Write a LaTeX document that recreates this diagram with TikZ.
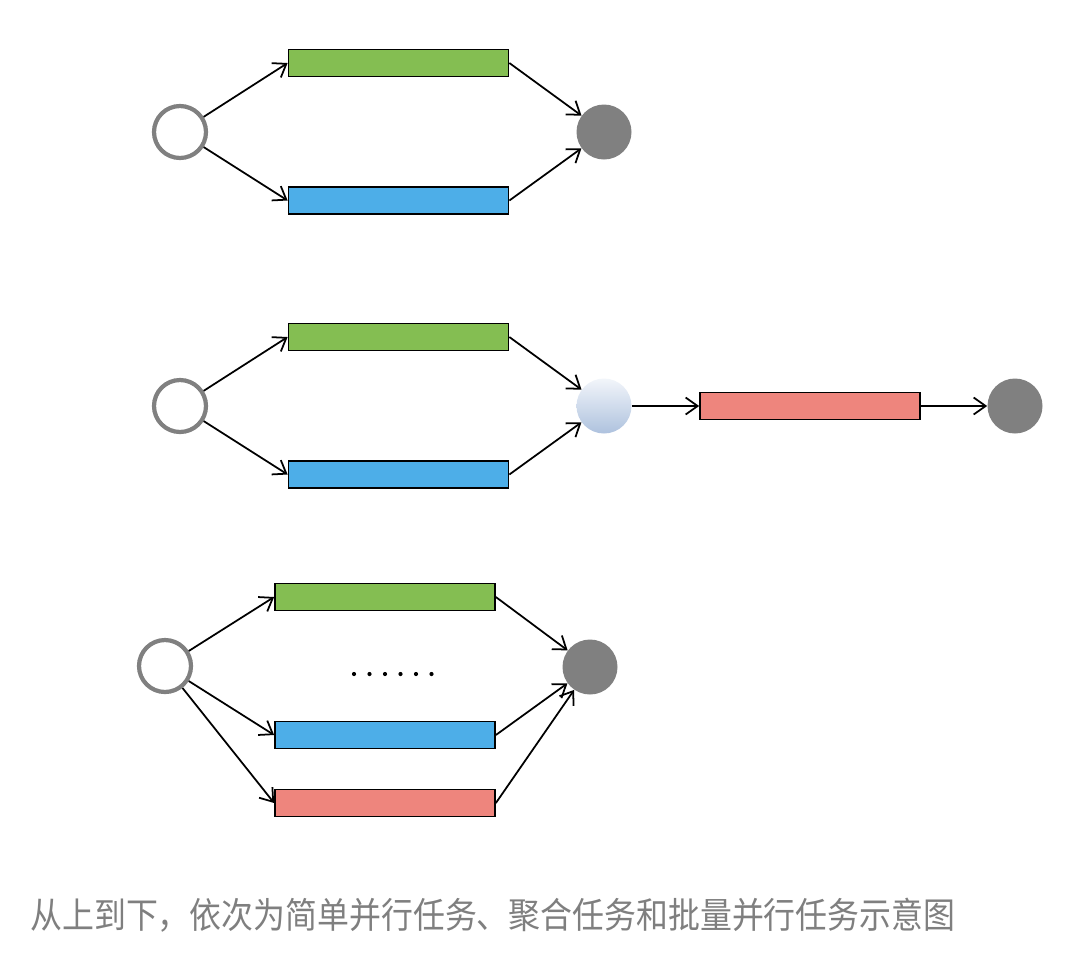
\documentclass[tikz,border=0pt]{standalone}
\usepackage{fontspec}
\newfontfamily\cjk{Noto Sans CJK SC}
\usetikzlibrary{arrows.meta}
\definecolor{taskgreen}{HTML}{84BE52}
\definecolor{taskblue}{HTML}{4DAEE8}
\definecolor{taskred}{HTML}{EE857D}
\definecolor{stategray}{HTML}{808080}
\definecolor{mergetop}{HTML}{F2F5FA}
\definecolor{mergebot}{HTML}{AEC2DE}
\definecolor{captiongray}{HTML}{7F7F7F}
\tikzset{
  task/.style={rectangle, draw=black, line width=1pt, inner sep=0pt, minimum width=4.4cm, minimum height=0.54cm},
  green task/.style={task, fill=taskgreen},
  blue task/.style={task, fill=taskblue},
  red task/.style={task, fill=taskred},
  startstate/.style={circle, draw=stategray, fill=white, line width=2.4pt, inner sep=0pt, minimum size=1.04cm},
  endstate/.style={circle, fill=stategray, inner sep=0pt, minimum size=1.1cm},
  mergestate/.style={circle, top color=mergetop, bottom color=mergebot, inner sep=0pt, minimum size=1.1cm},
  flow/.style={-{Straight Barb[length=2.4mm,width=3.4mm]}, line width=1pt, draw=black},
  caption/.style={font=\cjk\fontsize{20.4}{24}\selectfont, text=captiongray, anchor=west, inner sep=0pt, xscale=0.89, transform shape}
}
\def\bx{398.5}
\def\cx{385}

\begin{document}
\begin{tikzpicture}[x=0.02cm, y=-0.02cm]
\useasboundingbox (0,0) rectangle (1088,968);

% --- Simple parallel ---
\node[startstate] (s1)  at (180,132) {};
\node[green task] (g1)  at (\bx,63)  {};
\node[blue task]  (b1)  at (\bx,200.5) {};
\node[endstate]   (e1)  at (604,132) {};

\draw[flow] (s1) -- (g1.west);
\draw[flow] (s1) -- (b1.west);
\draw[flow] (g1.east) -- (e1);
\draw[flow] (b1.east) -- (e1);

% --- Aggregation ---
\node[startstate] (s2)  at (180,406) {};
\node[green task] (g2)  at (\bx,337) {};
\node[blue task]  (b2)  at (\bx,474.5) {};
\node[mergestate] (m2)  at (604,406) {};
\node[red task]   (r2)  at (810,406) {};
\node[endstate]   (e2)  at (1015,406) {};

\draw[flow] (s2) -- (g2.west);
\draw[flow] (s2) -- (b2.west);
\draw[flow] (g2.east) -- (m2);
\draw[flow] (b2.east) -- (m2);
\draw[flow] (m2) -- (r2);
\draw[flow] (r2) -- (e2);

% --- Batch parallel ---
\node[startstate] (s3)  at (165,666) {};
\node[green task] (g3)  at (\cx,597) {};
\node[blue task]  (b3)  at (\cx,735) {};
\node[red task]   (r3)  at (\cx,803) {};
\node[endstate]   (e3)  at (590,667) {};
\foreach \x in {354,369.5,385,400.5,416,431.5} { \fill (\x,674) circle (2.1); }

\draw[flow] (s3) -- (g3.west);
\draw[flow] (s3) -- (b3.west);
\draw[flow] (s3) -- (r3.west);
\draw[flow] (g3.east) -- (e3);
\draw[flow] (b3.east) -- (e3);
\draw[flow] (r3.east) -- (e3);

% --- Caption ---
\node[caption] (cap) at (30,915) {从上到下，依次为简单并行任务、聚合任务和批量并行任务示意图};

\end{tikzpicture}
\end{document}
